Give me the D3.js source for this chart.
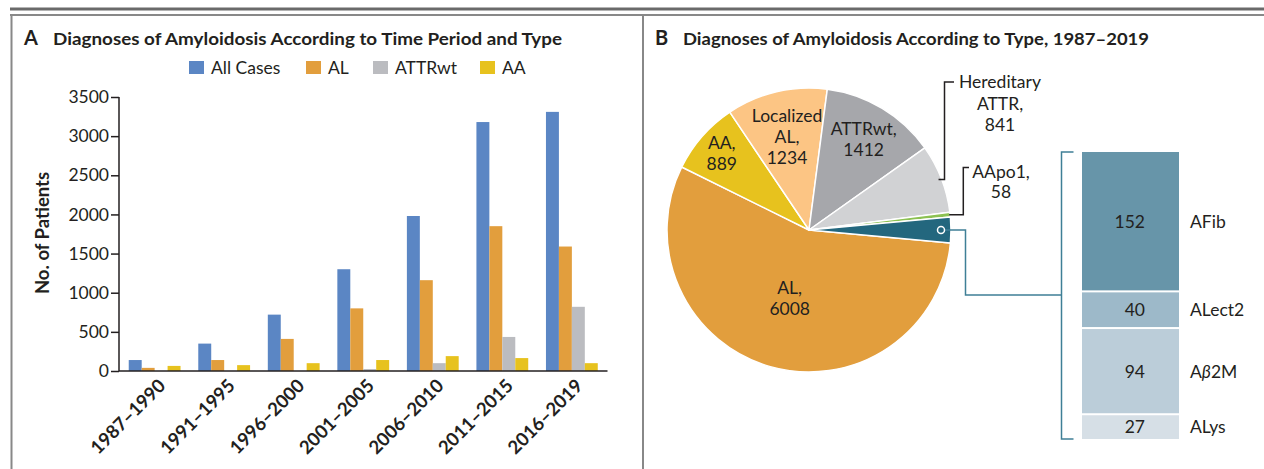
<!DOCTYPE html>
<html>
<head>
<meta charset="utf-8">
<script src="https://cdn.jsdelivr.net/npm/d3@7"></script>
<style>
  html, body { margin: 0; padding: 0; background: #fff; }
  svg { display: block; }
  text { font-family: Lato, "Open Sans", sans-serif; fill: #231F20; }
</style>
</head>
<body>
<svg id="chart" width="1264" height="469"></svg>
<script>
// ---------- Data ----------
const periods = ["1987–1990", "1991–1995", "1996–2000", "2001–2005", "2006–2010", "2011–2015", "2016–2019"];
const seriesNames = ["All Cases", "AL", "ATTRwt", "AA"];
const allCasesValues = [140, 350, 720, 1300, 1980, 3180, 3310];
const alValues = [40, 140, 410, 800, 1160, 1850, 1590];
const attrwtValues = [0, 0, 0, 25, 100, 435, 820];
const aaValues = [65, 75, 100, 140, 190, 165, 100];
const yTickValues = [0, 500, 1000, 1500, 2000, 2500, 3000, 3500];

const pieTypes = ["AL", "AA", "Localized AL", "ATTRwt", "Hereditary ATTR", "AApo1", "Other"];
const pieCounts = [6008, 889, 1234, 1412, 841, 58, 313];
const otherTypes = ["AFib", "ALect2", "Aβ2M", "ALys"];
const otherCounts = [152, 40, 94, 27];

// ---------- Styles ----------
const seriesColors = ["#5B86C4", "#E29E3D", "#BBBCC0", "#E7C21E"];
const pieColors = ["#E29E3D", "#E7C21E", "#FCC584", "#A6A7AB", "#D1D2D4", "#8CC152", "#23677E"];
const otherColors = ["#6795A9", "#9DB9C9", "#BBCDD9", "#D6DFE6"];
const ink = "#231F20";
const fs = 17.5;

const svg = d3.select("#chart");

// ---------- Frame ----------
svg.append("rect").attr("x", 10).attr("y", 7.5).attr("width", 1254).attr("height", 3).attr("fill", "#6a6a6a");
svg.append("rect").attr("x", 10).attr("y", 14).attr("width", 1254).attr("height", 2).attr("fill", "#888");
svg.append("rect").attr("x", 10.5).attr("y", 14).attr("width", 2).attr("height", 455).attr("fill", "#888");
svg.append("rect").attr("x", 642).attr("y", 14).attr("width", 2).attr("height", 455).attr("fill", "#888");

// ---------- Panel A ----------
const gA = svg.append("g");
gA.append("text").attr("x", 24).attr("y", 45).attr("font-size", 20).attr("font-weight", 700).text("A");
gA.append("text").attr("x", 53).attr("y", 45).attr("font-size", 17).attr("font-weight", 700)
  .attr("textLength", 509).attr("lengthAdjust", "spacingAndGlyphs")
  .text("Diagnoses of Amyloidosis According to Time Period and Type");

// legend
const legendX = [189, 306, 373, 480];
const legend = gA.selectAll("g.leg").data(seriesNames).join("g").attr("class", "leg")
  .attr("transform", (d, i) => `translate(${legendX[i]},61)`);
legend.append("rect").attr("width", 15).attr("height", 13).attr("fill", (d, i) => seriesColors[i]);
legend.append("text").attr("x", 22).attr("y", 12.5).attr("font-size", fs).text(d => d);

const x0 = d3.scaleBand().domain(periods).range([119, 607.5]).paddingInner(0.255).paddingOuter(0.14);
const x1 = d3.scaleBand().domain(seriesNames).range([0, x0.bandwidth()]);
const y = d3.scaleLinear().domain([0, 3500]).range([371, 97]);

const seriesValues = [allCasesValues, alValues, attrwtValues, aaValues];
const groups = gA.selectAll("g.grp").data(periods).join("g").attr("class", "grp")
  .attr("transform", d => `translate(${x0(d)},0)`);
groups.selectAll("rect").data((p, pi) => seriesNames.map((s, si) => ({ s, si, v: seriesValues[si][pi] })))
  .join("rect")
  .attr("x", d => x1(d.s)).attr("width", x1.bandwidth())
  .attr("y", d => y(d.v)).attr("height", d => y(0) - y(d.v))
  .attr("fill", d => seriesColors[d.si]);

// y axis
const yAxis = gA.append("g").attr("transform", "translate(119,0)")
  .call(d3.axisLeft(y).tickValues(yTickValues).tickSize(8).tickPadding(2).tickFormat(d3.format("d")));
yAxis.select(".domain").attr("stroke", ink).attr("stroke-width", 1.5).attr("d", `M0,${y(3500)}V${y(0)}`);
yAxis.selectAll(".tick line").attr("stroke", ink).attr("stroke-width", 1.5);
yAxis.selectAll(".tick text").attr("font-size", fs).attr("font-family", "Lato, sans-serif").attr("fill", ink);

// x axis
const xAxis = gA.append("g").attr("transform", `translate(0,${y(0)})`)
  .call(d3.axisBottom(x0).tickSize(0).tickPadding(0));
xAxis.select(".domain").attr("stroke", ink).attr("stroke-width", 1.5).attr("d", "M119,0H607.5");
xAxis.selectAll(".tick text")
  .attr("font-size", 18.5).attr("font-family", "Lato, sans-serif").attr("font-weight", 700).attr("fill", ink)
  .attr("text-anchor", "end").attr("dy", 0)
  .attr("transform", "translate(12,16) rotate(-45)");

// y title
gA.append("text").attr("transform", "translate(49,233) rotate(-90)")
  .attr("text-anchor", "middle").attr("font-size", 18.5).attr("font-weight", 700).text("No. of Patients");

// ---------- Panel B ----------
const gB = svg.append("g");
gB.append("text").attr("x", 655).attr("y", 45).attr("font-size", 20).attr("font-weight", 700).text("B");
gB.append("text").attr("x", 683).attr("y", 45).attr("font-size", 17).attr("font-weight", 700)
  .attr("textLength", 466).attr("lengthAdjust", "spacingAndGlyphs")
  .text("Diagnoses of Amyloidosis According to Type, 1987–2019");

const cx = 809, cy = 230, R = 142;
const otherShare = pieCounts[6] / d3.sum(pieCounts) * 2 * Math.PI;
const start = Math.PI / 2 + otherShare / 2;
const pie = d3.pie().sort(null).value(d => d).startAngle(start).endAngle(start + 2 * Math.PI);
const arcs = pie(pieCounts);
const arc = d3.arc().innerRadius(0).outerRadius(R);
const gPie = gB.append("g").attr("transform", `translate(${cx},${cy})`);
gPie.selectAll("path").data(arcs).join("path")
  .attr("d", arc).attr("fill", (d, i) => pieColors[i])
  .attr("stroke", "#fff").attr("stroke-width", 1.5).attr("stroke-linejoin", "round");

// inside labels
const labelLines = [["AL,", "6008"], ["AA,", "889"], ["Localized", "AL,", "1234"], ["ATTRwt,", "1412"]];
const labelRadius = [71, 116, 96, 106];
labelLines.forEach((lines, i) => {
  const c = d3.arc().innerRadius(labelRadius[i]).outerRadius(labelRadius[i]).centroid(arcs[i]);
  const t = gPie.append("text").attr("text-anchor", "middle").attr("font-size", 17.5)
    .attr("transform", `translate(${c[0]},${c[1]})`);
  lines.forEach((ln, k) => {
    t.append("tspan").attr("x", 0).attr("y", (k - (lines.length - 1) / 2) * 21 + 6).text(ln);
  });
});

// Hereditary ATTR leader + label
function midPoint(a, r) {
  const m = (a.startAngle + a.endAngle) / 2;
  return [cx + r * Math.sin(m), cy - r * Math.cos(m)];
}
const hp = midPoint(arcs[4], 139);
gB.append("path").attr("fill", "none").attr("stroke", ink).attr("stroke-width", 1.5)
  .attr("d", `M${hp[0]},${hp[1]}H944.5V82H954`);
const ht = gB.append("text").attr("text-anchor", "middle").attr("font-size", 17.5);
["Hereditary", "ATTR,", "841"].forEach((ln, k) => ht.append("tspan").attr("x", 1000).attr("y", 88 + k * 21.5).text(ln));

// AApo1 leader + label
const ap = midPoint(arcs[5], 141);
gB.append("path").attr("fill", "none").attr("stroke", ink).attr("stroke-width", 1.5)
  .attr("d", `M${ap[0]},${ap[1]}H963.3V167.5H969`);
const at = gB.append("text").attr("text-anchor", "middle").attr("font-size", 17.5);
["AApo1,", "58"].forEach((ln, k) => at.append("tspan").attr("x", 1001).attr("y", 178 + k * 20).text(ln));

// Other: connector and stacked bar
const teal = "#3F7F96";
const op = midPoint(arcs[6], 132);
gB.append("path").attr("fill", "none").attr("stroke", teal).attr("stroke-width", 1.5)
  .attr("d", `M${op[0] + 4},${op[1]}H965.5V295H1061.5`);
gB.append("path").attr("fill", "none").attr("stroke", teal).attr("stroke-width", 1.5)
  .attr("d", "M1073.5,152H1061.5V439H1073.5");
gB.append("circle").attr("cx", op[0]).attr("cy", op[1]).attr("r", 3.5)
  .attr("fill", pieColors[6]).attr("stroke", "#fff").attr("stroke-width", 1.5);

const yS = d3.scaleLinear().domain([0, d3.sum(otherCounts)]).range([152, 439]);
const cum = d3.cumsum([0, ...otherCounts]);
const segs = otherTypes.map((t, i) => ({ t, v: otherCounts[i], y0: cum[i], y1: cum[i + 1], c: otherColors[i] }));
const gS = gB.append("g");
gS.selectAll("rect").data(segs).join("rect")
  .attr("x", 1082).attr("width", 97)
  .attr("y", d => yS(d.y0) + (d.y0 > 0 ? 1 : 0))
  .attr("height", d => yS(d.y1) - yS(d.y0) - (d.y0 > 0 ? 1 : 0) - (d.y1 < d3.sum(otherCounts) ? 1 : 0))
  .attr("fill", d => d.c);
gS.selectAll("text.val").data(segs).join("text").attr("class", "val")
  .attr("x", 1145).attr("y", d => (yS(d.y0) + yS(d.y1)) / 2 + 6.5)
  .attr("text-anchor", "end").attr("font-size", 17.5).text(d => d.v);
const names = gS.selectAll("text.nm").data(segs).join("text").attr("class", "nm")
  .attr("x", 1190).attr("y", d => (yS(d.y0) + yS(d.y1)) / 2 + 6.5).attr("font-size", 17.5);
names.each(function(d) {
  const t = d3.select(this);
  if (d.t.includes("β")) {
    t.append("tspan").text("A");
    t.append("tspan").attr("font-style", "italic").text("β");
    t.append("tspan").text("2M");
  } else t.text(d.t);
});
</script>
</body>
</html>
